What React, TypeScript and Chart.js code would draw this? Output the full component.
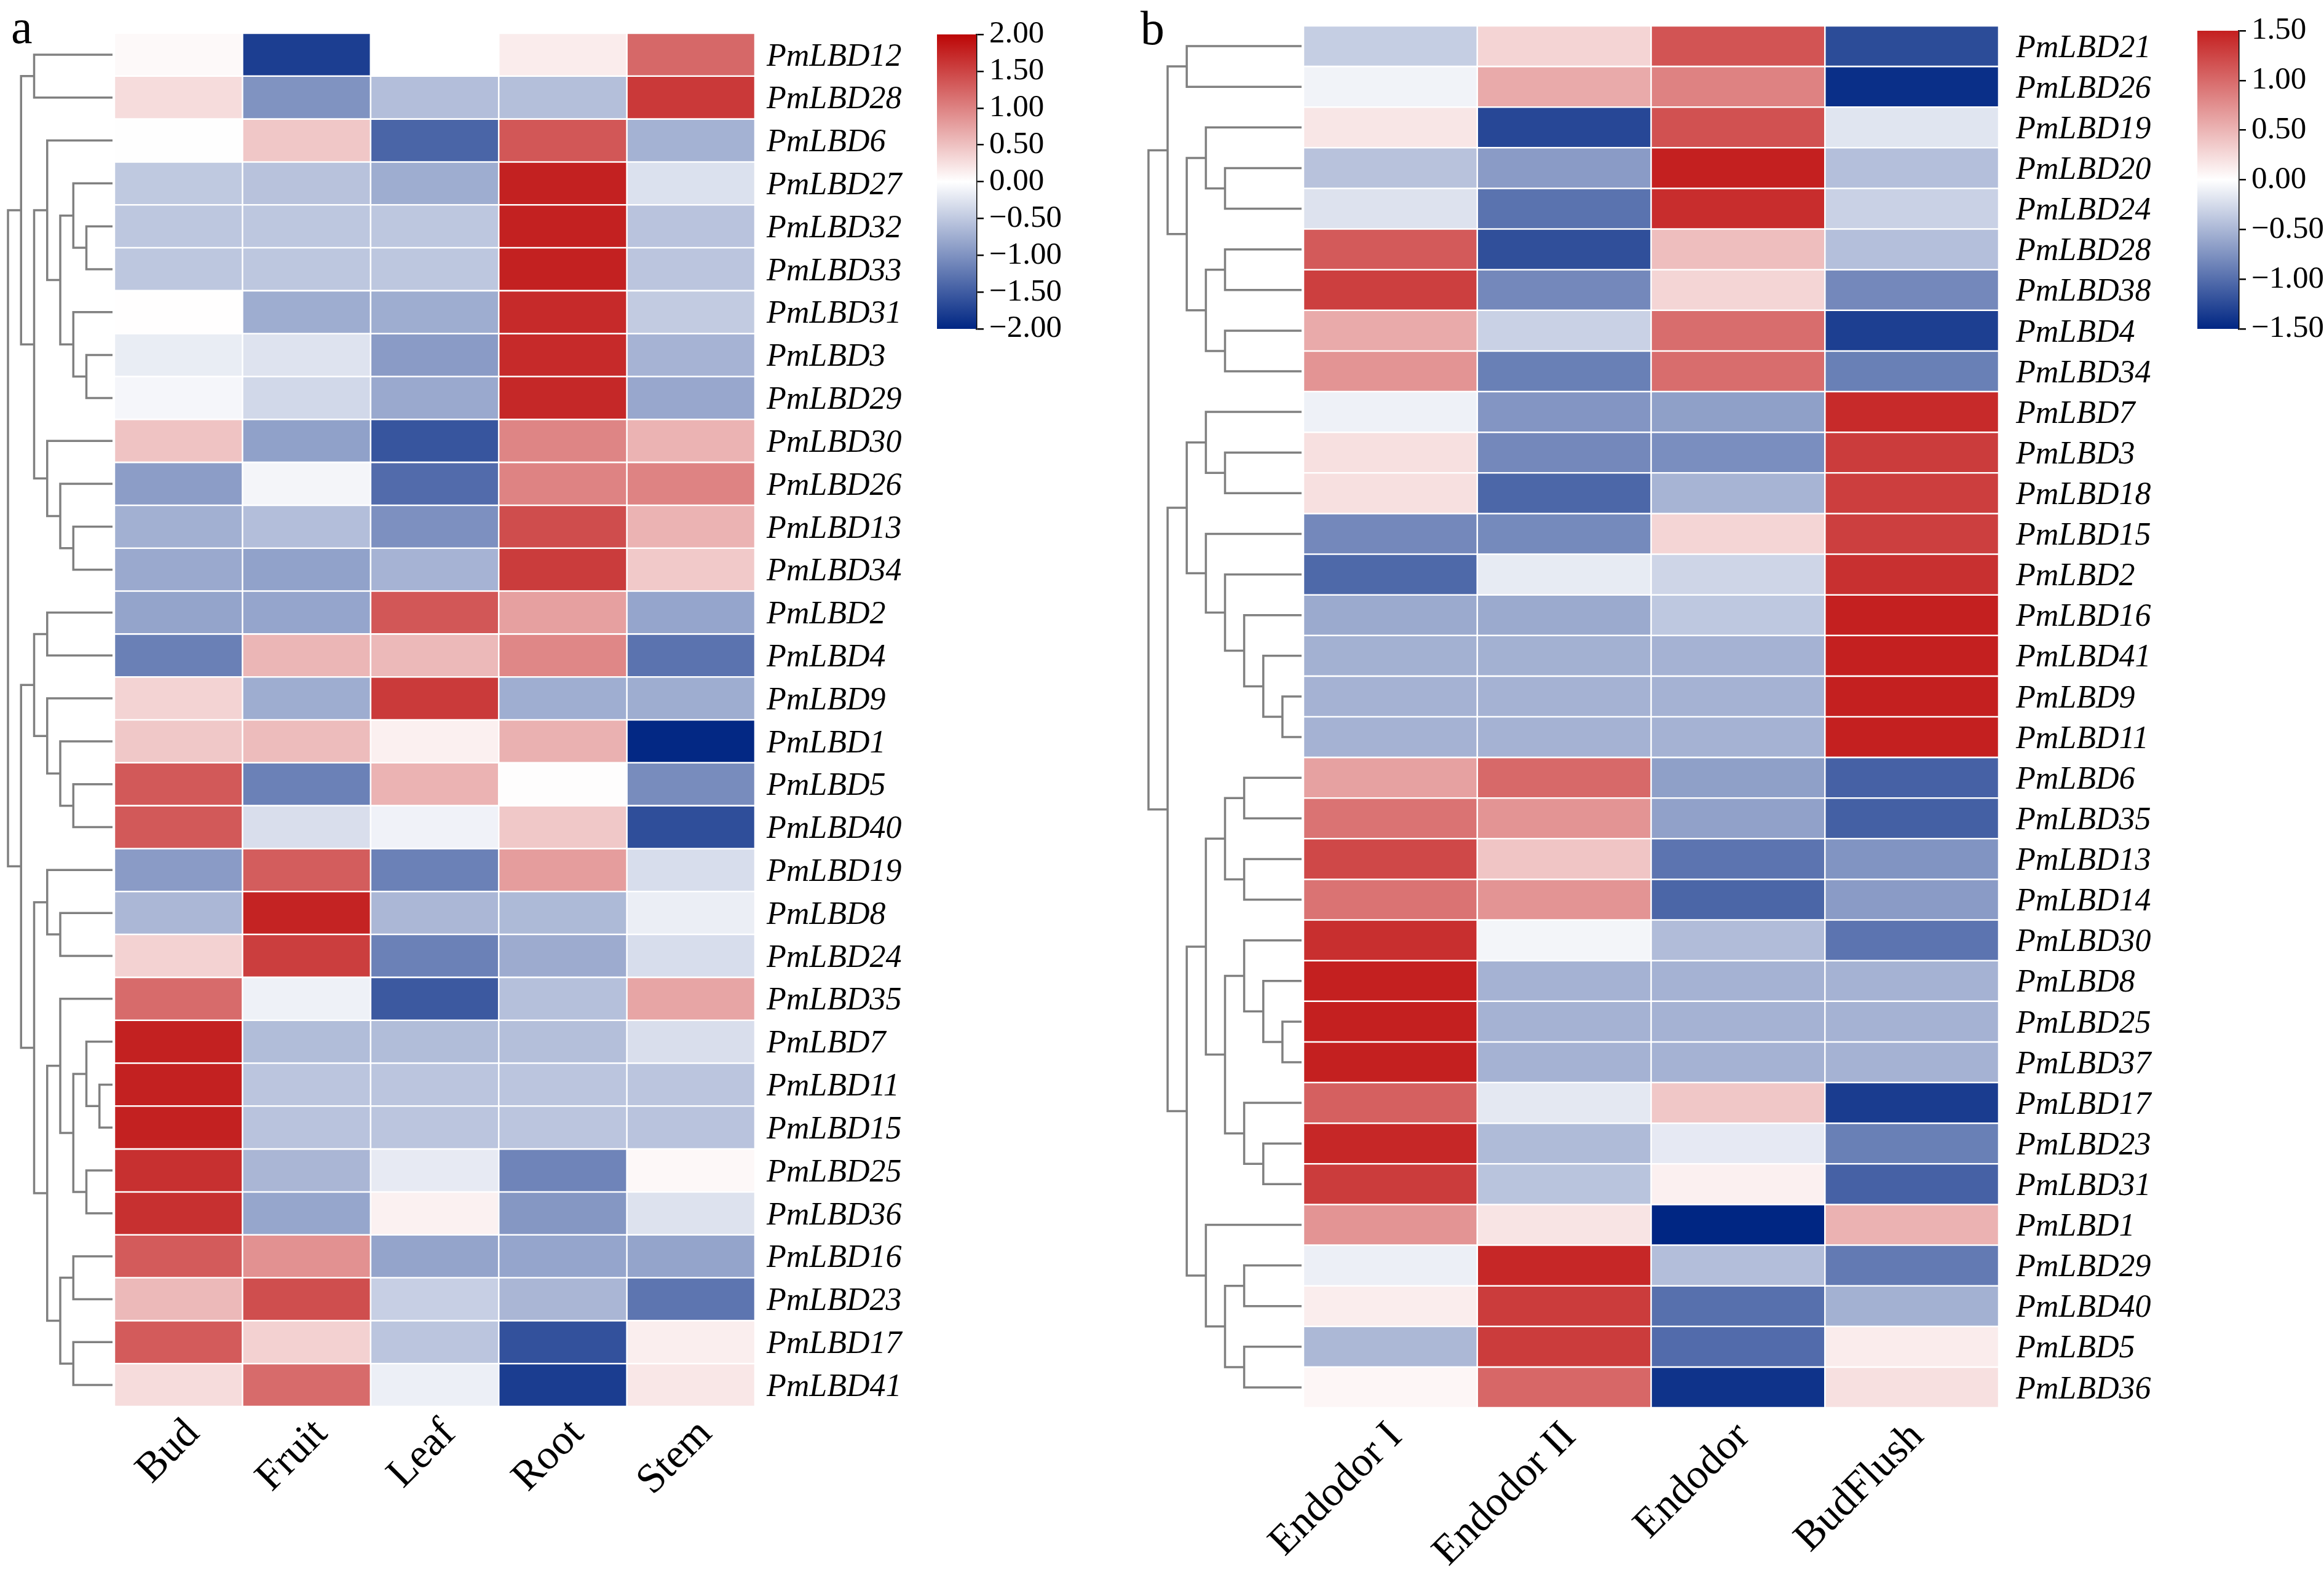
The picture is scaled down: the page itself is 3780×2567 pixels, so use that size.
import React, { useEffect, useRef } from 'react';
import { Chart, registerables } from 'chart.js';
Chart.register(...registerables);

const W = 3780;
const H = 2567;
const FONT = "'Liberation Serif', 'Times New Roman', Times, serif";

// ---------- Panel a ----------
const tissuesA = ['Bud', 'Fruit', 'Leaf', 'Root', 'Stem'];
const genesA = [
  'PmLBD12', 'PmLBD28', 'PmLBD6', 'PmLBD27', 'PmLBD32', 'PmLBD33', 'PmLBD31', 'PmLBD3',
  'PmLBD29', 'PmLBD30', 'PmLBD26', 'PmLBD13', 'PmLBD34', 'PmLBD2', 'PmLBD4', 'PmLBD9',
  'PmLBD1', 'PmLBD5', 'PmLBD40', 'PmLBD19', 'PmLBD8', 'PmLBD24', 'PmLBD35', 'PmLBD7',
  'PmLBD11', 'PmLBD15', 'PmLBD25', 'PmLBD36', 'PmLBD16', 'PmLBD23', 'PmLBD17', 'PmLBD41',
];
const exprA = [
  [0.05, -1.78, 0.0, 0.15, 1.21],
  [0.28, -1.0, -0.6, -0.59, 1.59],
  [-0.01, 0.45, -1.42, 1.35, -0.71],
  [-0.5, -0.56, -0.76, 1.78, -0.28],
  [-0.52, -0.52, -0.52, 1.78, -0.55],
  [-0.52, -0.52, -0.52, 1.78, -0.53],
  [0.01, -0.76, -0.76, 1.71, -0.48],
  [-0.17, -0.26, -0.92, 1.71, -0.7],
  [-0.08, -0.36, -0.79, 1.73, -0.81],
  [0.48, -0.87, -1.57, 0.98, 0.61],
  [-0.9, -0.09, -1.36, 1.0, 1.0],
  [-0.73, -0.6, -1.02, 1.43, 0.61],
  [-0.79, -0.86, -0.7, 1.57, 0.43],
  [-0.84, -0.83, 1.35, 0.76, -0.83],
  [-1.17, 0.59, 0.56, 0.96, -1.29],
  [0.35, -0.76, 1.58, -0.75, -0.76],
  [0.44, 0.54, 0.12, 0.63, -1.98],
  [1.33, -1.16, 0.61, 0.02, -1.06],
  [1.33, -0.3, -0.12, 0.44, -1.63],
  [-0.92, 1.3, -1.16, 0.79, -0.31],
  [-0.66, 1.77, -0.66, -0.64, -0.16],
  [0.36, 1.55, -1.16, -0.77, -0.31],
  [1.19, -0.13, -1.53, -0.58, 0.72],
  [1.78, -0.61, -0.61, -0.59, -0.3],
  [1.78, -0.53, -0.53, -0.53, -0.53],
  [1.78, -0.55, -0.53, -0.53, -0.55],
  [1.66, -0.67, -0.19, -1.13, 0.06],
  [1.66, -0.82, 0.11, -0.96, -0.27],
  [1.32, 0.88, -0.84, -0.83, -0.84],
  [0.56, 1.42, -0.44, -0.67, -1.27],
  [1.32, 0.37, -0.53, -1.6, 0.14],
  [0.28, 1.19, -0.15, -1.79, 0.19],
];
// [childA, childB, level]; leaves are 0..n-1, merged nodes continue from n
const linkageA = [
  [0, 1, 2], [4, 5, 6], [3, 33, 5], [7, 8, 6], [6, 35, 5], [34, 36, 4], [2, 37, 3],
  [11, 12, 5], [10, 39, 4], [9, 40, 3], [38, 41, 2], [32, 42, 1],
  [13, 14, 3], [17, 18, 5], [16, 45, 4], [15, 46, 3], [44, 47, 2],
  [20, 21, 4], [19, 49, 3], [24, 25, 7], [23, 51, 6], [26, 27, 6], [52, 53, 5],
  [22, 54, 4], [28, 29, 5], [30, 31, 5], [56, 57, 4], [55, 58, 3], [50, 59, 2],
  [48, 60, 1], [43, 61, 0],
];
const rangeA = 2;
const colorTicksA = [-2, -1.5, -1, -0.5, 0, 0.5, 1, 1.5, 2];

// ---------- Panel b ----------
const stagesB = ['Endodor I', 'Endodor II', 'Endodor', 'BudFlush'];
const genesB = [
  'PmLBD21', 'PmLBD26', 'PmLBD19', 'PmLBD20', 'PmLBD24', 'PmLBD28', 'PmLBD38', 'PmLBD4',
  'PmLBD34', 'PmLBD7', 'PmLBD3', 'PmLBD18', 'PmLBD15', 'PmLBD2', 'PmLBD16', 'PmLBD41',
  'PmLBD9', 'PmLBD11', 'PmLBD6', 'PmLBD35', 'PmLBD13', 'PmLBD14', 'PmLBD30', 'PmLBD8',
  'PmLBD25', 'PmLBD37', 'PmLBD17', 'PmLBD23', 'PmLBD31', 'PmLBD1', 'PmLBD29', 'PmLBD40',
  'PmLBD5', 'PmLBD36',
];
const exprB = [
  [-0.34, 0.29, 1.15, -1.24],
  [-0.08, 0.57, 0.84, -1.44],
  [0.17, -1.27, 1.17, -0.18],
  [-0.42, -0.69, 1.5, -0.44],
  [-0.2, -0.97, 1.41, -0.32],
  [1.11, -1.22, 0.44, -0.44],
  [1.29, -0.82, 0.28, -0.82],
  [0.57, -0.32, 0.98, -1.33],
  [0.72, -0.88, 0.98, -0.88],
  [-0.1, -0.73, -0.66, 1.43],
  [0.21, -0.82, -0.78, 1.31],
  [0.21, -1.05, -0.52, 1.3],
  [-0.82, -0.81, 0.28, 1.29],
  [-1.04, -0.14, -0.29, 1.39],
  [-0.59, -0.59, -0.38, 1.5],
  [-0.54, -0.54, -0.53, 1.5],
  [-0.53, -0.53, -0.53, 1.5],
  [-0.53, -0.53, -0.53, 1.5],
  [0.63, 1.01, -0.66, -1.09],
  [0.94, 0.72, -0.65, -1.1],
  [1.23, 0.39, -0.96, -0.74],
  [0.94, 0.72, -1.06, -0.69],
  [1.4, -0.07, -0.46, -0.96],
  [1.5, -0.53, -0.53, -0.53],
  [1.5, -0.53, -0.53, -0.53],
  [1.5, -0.53, -0.53, -0.53],
  [1.07, -0.16, 0.38, -1.35],
  [1.45, -0.47, -0.15, -0.88],
  [1.31, -0.41, 0.1, -1.09],
  [0.72, 0.18, -1.5, 0.52],
  [-0.11, 1.45, -0.45, -0.92],
  [0.12, 1.31, -0.99, -0.54],
  [-0.49, 1.31, -1.02, 0.13],
  [0.06, 1.02, -1.41, 0.21],
];
const linkageB = [
  [0, 1, 2], [3, 4, 4], [2, 35, 3], [5, 6, 4], [7, 8, 4], [37, 38, 3], [36, 39, 2], [34, 40, 1],
  [10, 11, 4], [9, 42, 3], [16, 17, 7], [15, 44, 6], [14, 45, 5], [13, 46, 4], [12, 47, 3],
  [43, 48, 2], [18, 19, 5], [20, 21, 5], [50, 51, 4], [24, 25, 7], [23, 53, 6], [22, 54, 5],
  [27, 28, 6], [26, 56, 5], [55, 57, 4], [52, 58, 3], [30, 31, 5], [32, 33, 5], [60, 61, 4],
  [29, 62, 3], [59, 63, 2], [49, 64, 1], [41, 65, 0],
];
const rangeB = 1.5;
const colorTicksB = [-1.5, -1, -0.5, 0, 0.5, 1, 1.5];

// ---------- colours ----------
const NEG_END = [0, 38, 131];
const POS_END_A = [188, 6, 6];
const POS_END_B = [196, 32, 32];

function rgb(c: number[]) {
  return `rgb(${c.map((v) => Math.round(v)).join(',')})`;
}
function colorFor(v: number, max: number, pos: number[]) {
  const t = Math.max(-1, Math.min(1, v / max));
  const end = t < 0 ? NEG_END : pos;
  const a = Math.abs(t);
  return rgb(end.map((e) => 255 + (e - 255) * a));
}

type Area = { l: number; r: number; t: number; b: number };

function pad(area: Area, rightW = 0, bottomH = 0) {
  return { left: area.l, top: area.t, right: W - area.r - rightW, bottom: H - area.b - bottomH };
}

const baseOpts = {
  responsive: false,
  animation: false as const,
  devicePixelRatio: 1,
  events: [] as any[],
};

function heatmapConfig(
  cols: string[], genes: string[], expr: number[][], max: number, pos: number[],
  area: Area, yGap: number, xPad: number, xOffset: number,
) {
  const rightW = 400;
  const bottomH = 260;
  return {
    type: 'bar',
    data: {
      labels: genes,
      datasets: cols.map((c, ci) => ({
        label: c,
        data: genes.map(() => [ci, ci + 1]),
        backgroundColor: expr.map((row) => colorFor(row[ci], max, pos)),
        borderColor: '#ffffff',
        borderWidth: 1.6,
        borderSkipped: false,
        barPercentage: 1,
        categoryPercentage: 1,
        grouped: false,
      })),
    },
    options: {
      ...baseOpts,
      indexAxis: 'y',
      layout: { padding: pad(area, rightW, bottomH) },
      plugins: { legend: { display: false }, tooltip: { enabled: false } },
      scales: {
        y: {
          type: 'category',
          position: 'right',
          grid: { display: true, drawOnChartArea: false, drawTicks: true, tickLength: yGap, color: 'rgba(0,0,0,0)' },
          border: { display: false },
          ticks: {
            font: { family: FONT, size: 52, style: 'italic' },
            color: '#000',
            padding: 0,
            autoSkip: false,
            labelOffset: 4,
          },
          afterFit: (s: any) => { s.width = rightW; },
        },
        x: {
          type: 'linear',
          min: 0,
          max: cols.length,
          grid: { display: false, drawTicks: false },
          border: { display: false },
          afterBuildTicks: (s: any) => { s.ticks = cols.map((_, i) => ({ value: i + 0.5 })); },
          ticks: {
            callback: (_v: any, i: number) => cols[i],
            font: { family: FONT, size: 68 },
            color: '#000',
            minRotation: 45,
            maxRotation: 45,
            autoSkip: false,
            padding: xPad,
            labelOffset: xOffset,
          },
          afterFit: (s: any) => { s.height = bottomH; },
        },
      },
    },
  };
}

function dendroConfig(link: number[][], n: number, area: Area, letter: string, lx: number, ly: number) {
  const LEAF = 8;
  const ys: number[] = [];
  const lv: number[] = [];
  for (let i = 0; i < n; i++) { ys[i] = i + 0.5; lv[i] = LEAF; }
  link.forEach(([a, b, l], k) => { ys[n + k] = (ys[a] + ys[b]) / 2; lv[n + k] = l; });
  const datasets = link.map(([a, b, l]) => ({
    data: [
      { x: lv[a], y: ys[a] }, { x: l, y: ys[a] }, { x: l, y: ys[b] }, { x: lv[b], y: ys[b] },
    ],
    showLine: true,
    borderColor: '#808080',
    borderWidth: 3.5,
    pointRadius: 0,
    fill: false,
    clip: false,
  }));
  return {
    type: 'scatter',
    data: { datasets },
    options: {
      ...baseOpts,
      layout: { padding: pad(area) },
      plugins: { legend: { display: false }, tooltip: { enabled: false } },
      scales: {
        x: { type: 'linear', min: 0, max: LEAF, display: false },
        y: { type: 'linear', min: 0, max: n, reverse: true, display: false },
      },
    },
    plugins: [{
      id: 'panelLetter',
      afterDraw: (chart: any) => {
        const c = chart.ctx;
        c.save();
        c.fillStyle = '#000';
        c.font = `78px ${FONT}`;
        c.textAlign = 'left';
        c.textBaseline = 'alphabetic';
        c.fillText(letter, lx, ly);
        c.restore();
      },
    }],
  };
}

function colorbarConfig(max: number, pos: number[], ticksList: number[], area: Area) {
  const rightW = 220;
  const fmt = (v: number) => (v < 0 ? '\u2212' : '') + Math.abs(v).toFixed(2);
  return {
    type: 'bar',
    data: {
      labels: [''],
      datasets: [{
        data: [[-max, max]],
        backgroundColor: (ctx: any) => {
          const ca = ctx.chart.chartArea;
          if (!ca) return '#ffffff';
          const g = ctx.chart.ctx.createLinearGradient(0, ca.bottom, 0, ca.top);
          g.addColorStop(0, rgb(NEG_END));
          g.addColorStop(0.5, '#ffffff');
          g.addColorStop(1, rgb(pos));
          return g;
        },
        borderWidth: 0,
        barPercentage: 1,
        categoryPercentage: 1,
      }],
    },
    options: {
      ...baseOpts,
      layout: { padding: pad(area, rightW, 0) },
      plugins: { legend: { display: false }, tooltip: { enabled: false } },
      scales: {
        x: { display: false },
        y: {
          position: 'right',
          min: -max,
          max: max,
          afterBuildTicks: (s: any) => { s.ticks = ticksList.map((v) => ({ value: v })); },
          ticks: {
            callback: (v: number) => fmt(v),
            font: { family: FONT, size: 51 },
            color: '#000',
            padding: 9,
            autoSkip: false,
          },
          grid: { drawOnChartArea: false, drawTicks: true, tickLength: 12, color: '#000', lineWidth: 2.5 },
          border: { display: true, color: '#000', width: 2.5 },
          afterFit: (s: any) => { s.width = rightW; },
        },
      },
    },
  };
}

const areaHeatA: Area = { l: 186, r: 1228, t: 54, b: 2288 };
const areaDendA: Area = { l: 13, r: 183, t: 54, b: 2288 };
const areaBarA: Area = { l: 1524, r: 1588, t: 56, b: 535 };
const areaHeatB: Area = { l: 2120, r: 3251, t: 42, b: 2290 };
const areaDendB: Area = { l: 1868, r: 2117, t: 42, b: 2290 };
const areaBarB: Area = { l: 3574, r: 3641, t: 50, b: 535 };

export default function App() {
  const refs = [useRef<HTMLCanvasElement>(null), useRef<HTMLCanvasElement>(null), useRef<HTMLCanvasElement>(null),
    useRef<HTMLCanvasElement>(null), useRef<HTMLCanvasElement>(null), useRef<HTMLCanvasElement>(null)];

  useEffect(() => {
    const configs: any[] = [
      dendroConfig(linkageA, genesA.length, areaDendA, 'a', 18, 70),
      heatmapConfig(tissuesA, genesA, exprA, rangeA, POS_END_A, areaHeatA, 19, 5, 24),
      colorbarConfig(rangeA, POS_END_A, colorTicksA, areaBarA),
      dendroConfig(linkageB, genesB.length, areaDendB, 'b', 1855, 72),
      heatmapConfig(stagesB, genesB, exprB, rangeB, POS_END_B, areaHeatB, 28, 8, 9),
      colorbarConfig(rangeB, POS_END_B, colorTicksB, areaBarB),
    ];
    const charts = configs.map((cfg, i) => new Chart(refs[i].current as HTMLCanvasElement, cfg));
    return () => { charts.forEach((c) => c.destroy()); };
  }, []);

  return (
    <div style={{ position: 'absolute', left: 0, top: 0, width: W, height: H, background: '#ffffff', overflow: 'hidden' }}>
      {refs.map((r, i) => (
        <canvas
          key={i}
          ref={r}
          width={W}
          height={H}
          style={{ position: 'absolute', left: 0, top: 0, width: W, height: H }}
        />
      ))}
    </div>
  );
}
